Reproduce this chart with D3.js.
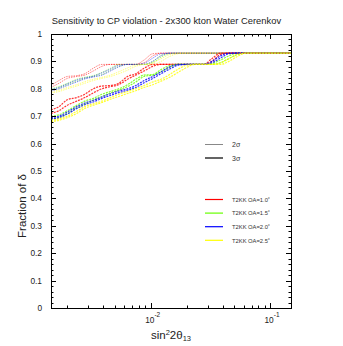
<!DOCTYPE html>
<html><head><meta charset="utf-8">
<script src="https://cdn.jsdelivr.net/npm/d3@7"></script>
<style>body{margin:0;background:#fff}svg{display:block}text{font-family:"Liberation Sans",Arial,sans-serif}</style>
</head><body><div id="chart"></div>
<script>
// ---- data ----
const sin2Grid = [0.00146,0.0017,0.002,0.0024,0.0028,0.0033,0.0039,0.0046,0.0054,0.0064,0.0075,0.0088,0.0104,0.0122,0.0144,0.017,0.02,0.0235,0.0277,0.0326,0.0384,0.0452,0.0532,0.0627,0.15];
const oaLabels = ["T2KK OA=1.0˚","T2KK OA=1.5˚","T2KK OA=2.0˚","T2KK OA=2.5˚"];
const oaColors = ["#ff0000","#66ff00","#0000ff","#ffff00"];
const sigmaLabels = ["2σ","3σ"];
// 2σ curves (two per off-axis angle)
const red2a = [0.812,0.83,0.845,0.848,0.855,0.875,0.889,0.889,0.889,0.889,0.889,0.905,0.928,0.93,0.93,0.93,0.93,0.93,0.93,0.93,0.93,0.93,0.93,0.93,0.93];
const red2b = [0.805,0.82,0.838,0.845,0.85,0.865,0.882,0.889,0.889,0.889,0.889,0.895,0.92,0.93,0.93,0.93,0.93,0.93,0.93,0.93,0.93,0.93,0.93,0.93,0.93];
const green2a = [0.80,0.808,0.82,0.835,0.842,0.848,0.86,0.875,0.889,0.889,0.889,0.889,0.90,0.922,0.93,0.93,0.93,0.93,0.93,0.93,0.93,0.93,0.93,0.93,0.93];
const green2b = [0.795,0.803,0.815,0.828,0.838,0.845,0.852,0.868,0.882,0.889,0.889,0.889,0.895,0.915,0.928,0.93,0.93,0.93,0.93,0.93,0.93,0.93,0.93,0.93,0.93];
const blue2a = [0.797,0.805,0.818,0.832,0.84,0.846,0.858,0.872,0.886,0.889,0.889,0.893,0.912,0.928,0.93,0.93,0.93,0.93,0.93,0.93,0.93,0.93,0.93,0.93,0.93];
const blue2b = [0.792,0.80,0.812,0.825,0.836,0.843,0.85,0.865,0.88,0.889,0.889,0.889,0.90,0.92,0.93,0.93,0.93,0.93,0.93,0.93,0.93,0.93,0.93,0.93,0.93];
const yellow2a = [0.79,0.795,0.805,0.815,0.826,0.835,0.842,0.85,0.862,0.876,0.887,0.889,0.895,0.91,0.925,0.93,0.93,0.93,0.93,0.93,0.93,0.93,0.93,0.93,0.93];
const yellow2b = [0.785,0.79,0.80,0.81,0.82,0.83,0.838,0.845,0.855,0.868,0.882,0.889,0.889,0.90,0.918,0.928,0.93,0.93,0.93,0.93,0.93,0.93,0.93,0.93,0.93];
// 3σ curves
const red3a = [0.723,0.735,0.76,0.768,0.78,0.80,0.81,0.812,0.82,0.845,0.855,0.875,0.889,0.889,0.889,0.889,0.889,0.889,0.889,0.91,0.93,0.93,0.93,0.93,0.93];
const red3b = [0.71,0.72,0.74,0.755,0.768,0.785,0.80,0.808,0.815,0.835,0.85,0.865,0.882,0.889,0.889,0.889,0.889,0.889,0.889,0.90,0.925,0.93,0.93,0.93,0.93];
const green3a = [0.70,0.705,0.72,0.74,0.755,0.765,0.78,0.79,0.80,0.815,0.835,0.85,0.852,0.87,0.885,0.889,0.889,0.889,0.889,0.892,0.905,0.92,0.93,0.93,0.93];
const green3b = [0.69,0.695,0.71,0.73,0.745,0.758,0.772,0.785,0.795,0.808,0.825,0.845,0.85,0.862,0.878,0.889,0.889,0.889,0.889,0.889,0.895,0.91,0.925,0.93,0.93];
const blue3a = [0.695,0.70,0.715,0.735,0.748,0.758,0.77,0.782,0.792,0.80,0.812,0.83,0.845,0.862,0.88,0.889,0.889,0.889,0.889,0.90,0.92,0.93,0.93,0.93,0.93];
const blue3b = [0.69,0.695,0.708,0.728,0.742,0.752,0.765,0.776,0.786,0.795,0.805,0.822,0.838,0.855,0.872,0.886,0.889,0.889,0.889,0.895,0.912,0.928,0.93,0.93,0.93];
const yellow3a = [0.685,0.69,0.70,0.718,0.735,0.745,0.755,0.768,0.78,0.79,0.80,0.812,0.825,0.835,0.852,0.872,0.886,0.889,0.889,0.889,0.895,0.91,0.925,0.93,0.93];
const yellow3b = [0.68,0.685,0.695,0.71,0.728,0.74,0.75,0.762,0.772,0.783,0.793,0.805,0.815,0.828,0.842,0.86,0.878,0.889,0.889,0.889,0.889,0.90,0.918,0.93,0.93];
const yTickValues = [0,0.1,0.2,0.3,0.4,0.5,0.6,0.7,0.8,0.9,1];
const yTickLabels = ["0","0.1","0.2","0.3","0.4","0.5","0.6","0.7","0.8","0.9","1"];
const xMajorTicks = [0.01,0.1];
const xTickExponents = ["-2","-1"];

const series = [
  {sigma:0, color:0, values:red2a},{sigma:0, color:0, values:red2b},
  {sigma:0, color:1, values:green2a},{sigma:0, color:1, values:green2b},
  {sigma:0, color:2, values:blue2a},{sigma:0, color:2, values:blue2b},
  {sigma:0, color:3, values:yellow2a},{sigma:0, color:3, values:yellow2b},
  {sigma:1, color:0, values:red3a},{sigma:1, color:0, values:red3b},
  {sigma:1, color:1, values:green3a},{sigma:1, color:1, values:green3b},
  {sigma:1, color:2, values:blue3a},{sigma:1, color:2, values:blue3b},
  {sigma:1, color:3, values:yellow3a},{sigma:1, color:3, values:yellow3b}
];

// ---- chart ----
const W=343,H=346;
const m={l:51,r:52,t:34,b:38};
const svg=d3.select("#chart").append("svg").attr("width",W).attr("height",H);
const x=d3.scaleLog().domain([0.00146,0.15]).range([m.l,W-m.r]);
const y=d3.scaleLinear().domain([0,1]).range([H-m.b,m.t]);

// title
svg.append("text").attr("x",166.5).attr("y",24).attr("text-anchor","middle")
  .attr("font-size",9.4).attr("fill","#222").text("Sensitivity to CP violation - 2x300 kton Water Cerenkov");

// curves
const line=d3.line().x((d,i)=>x(sin2Grid[i])).y(d=>y(d)).curve(d3.curveMonotoneX);
const g=svg.append("g");
series.filter(s=>s.sigma===0).forEach(s=>{
  g.append("path").attr("d",line(s.values)).attr("fill","none")
   .attr("stroke",oaColors[s.color]).attr("stroke-width",1).attr("stroke-opacity",0.5)
   .attr("stroke-dasharray","1.5,1");
});
series.filter(s=>s.sigma===1).forEach(s=>{
  g.append("path").attr("d",line(s.values)).attr("fill","none")
   .attr("stroke",oaColors[s.color]).attr("stroke-width",1.2).attr("stroke-opacity",0.8)
   .attr("stroke-dasharray","2,1");
});

// axes frame
const ax=svg.append("g").attr("stroke","#000").attr("fill","none");
ax.append("rect").attr("x",m.l+0.5).attr("y",m.t+0.5).attr("width",W-m.r-m.l).attr("height",H-m.b-m.t).attr("stroke-width",1);

// y ticks
const yMinor=d3.range(0,1.0001,0.02);
yMinor.forEach(v=>{
  const major=Math.abs(v*10-Math.round(v*10))<1e-6;
  const len=major?5:2.5;
  const yy=Math.round(y(v))+0.5;
  ax.append("line").attr("x1",m.l).attr("x2",m.l+len).attr("y1",yy).attr("y2",yy);
  ax.append("line").attr("x1",W-m.r).attr("x2",W-m.r-len).attr("y1",yy).attr("y2",yy);
});
yTickValues.forEach((v,i)=>{
  svg.append("text").attr("x",42).attr("y",y(v)+3).attr("text-anchor","end")
   .attr("font-size",8.3).attr("fill","#222").text(yTickLabels[i]);
});

// x ticks
const xMinor=[];
[0.001,0.01,0.1].forEach(dec=>{for(let k=1;k<10;k++){const v=dec*k;if(v>=0.00146&&v<=0.15)xMinor.push(v);}});
xMinor.forEach(v=>{
  const major=xMajorTicks.some(t=>Math.abs(t-v)<1e-9);
  const len=major?5:2.5;
  const xx=Math.round(x(v))+0.5;
  ax.append("line").attr("x1",xx).attr("x2",xx).attr("y1",H-m.b).attr("y2",H-m.b-len);
  ax.append("line").attr("x1",xx).attr("x2",xx).attr("y1",m.t).attr("y2",m.t+len);
});
xMajorTicks.forEach((v,i)=>{
  const t=svg.append("text").attr("x",x(v)+2).attr("y",323).attr("text-anchor","middle")
   .attr("font-size",8.3).attr("fill","#222");
  t.append("tspan").text("10");
  t.append("tspan").attr("dy",-6).attr("font-size",6.5).text(xTickExponents[i]);
});

// axis labels
const xl=svg.append("text").attr("x",171).attr("y",339).attr("text-anchor","middle").attr("font-size",11.5).attr("fill","#222");
xl.append("tspan").text("sin");
xl.append("tspan").attr("dy",-4).attr("font-size",7.5).text("2");
xl.append("tspan").attr("dy",4).text("2θ");
xl.append("tspan").attr("dy",2).attr("font-size",7.5).text("13");
svg.append("text").attr("transform","translate(26,206) rotate(-90)").attr("text-anchor","middle")
  .attr("font-size",11.5).attr("fill","#222").text("Fraction of δ");

// legend
const lg=svg.append("g");
const sigStroke=["#888","#222"], sigW=[1,1.4];
sigmaLabels.forEach((s,i)=>{
  const yy=144.5+i*13.5;
  lg.append("line").attr("x1",205).attr("x2",223).attr("y1",yy).attr("y2",yy).attr("stroke",sigStroke[i]).attr("stroke-width",sigW[i]);
  lg.append("text").attr("x",232).attr("y",yy+2.5).attr("font-size",7).attr("fill","#333").text(s);
});
oaLabels.forEach((s,i)=>{
  const yy=199.5+i*13.6;
  lg.append("line").attr("x1",205).attr("x2",223).attr("y1",yy).attr("y2",yy).attr("stroke",oaColors[i]).attr("stroke-width",1.2);
  lg.append("text").attr("x",232).attr("y",yy+2.3).attr("font-size",5.8).attr("fill","#333").text(s);
});
</script></body></html>
